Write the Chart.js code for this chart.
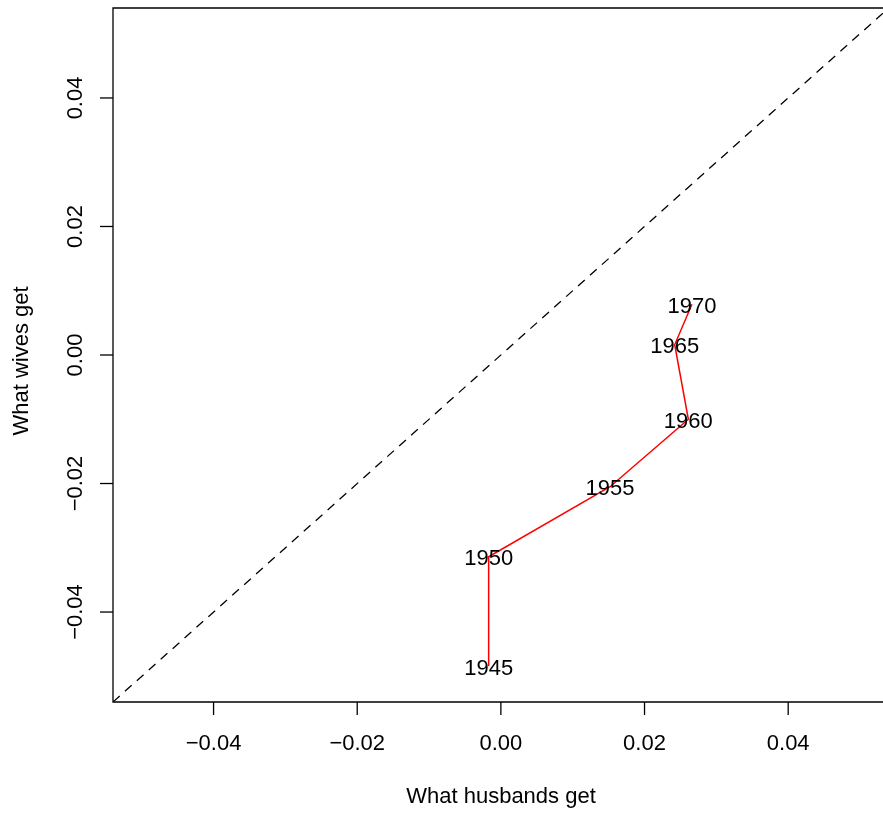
<!DOCTYPE html>
<html lang="en">
<head>
    <meta charset="UTF-8">
    <title>What husbands get vs what wives get</title>
    <style>
        html, body { margin: 0; padding: 0; background: #fff; }
        #wrap { width: 883px; height: 813px; position: relative; }
    </style>
</head>
<body>
    <div id="wrap"><canvas id="chart" width="883" height="813"></canvas></div>
    <script src="https://cdn.jsdelivr.net/npm/chart.js"></script>
    <script>
        // data
        const years = ['1945', '1950', '1955', '1960', '1965', '1970'];
        const husbands = [-0.0017, -0.0017, 0.0152, 0.0261, 0.0242, 0.0266];
        const wives = [-0.0484, -0.0314, -0.0205, -0.0100, 0.0016, 0.0079];
        const tickValues = [-0.04, -0.02, 0.00, 0.02, 0.04];
        const tickLabels = ['\u22120.04', '\u22120.02', '0.00', '0.02', '0.04'];
        const xLimits = [-0.054, 0.0532];
        const yLimits = [-0.054, 0.054];
        const diagLimits = [-0.054, 0.054]; // y = x reference line

        const FONT = '22px "Liberation Sans", Arial, sans-serif';

        // box, ticks, labels and year text like base R graphics
        const rAxes = {
            id: 'rAxes',
            afterDatasetsDraw(chart) {
                const ctx = chart.ctx;
                const a = chart.chartArea;
                const xs = chart.scales.x, ys = chart.scales.y;
                ctx.save();
                ctx.strokeStyle = '#000';
                ctx.lineWidth = 1.3;
                ctx.beginPath();
                ctx.moveTo(chart.width, a.top);
                ctx.lineTo(a.left, a.top);
                ctx.lineTo(a.left, a.bottom);
                ctx.lineTo(chart.width, a.bottom);
                ctx.stroke();

                ctx.fillStyle = '#000';
                ctx.font = FONT;
                // x ticks
                ctx.textAlign = 'center';
                ctx.textBaseline = 'alphabetic';
                tickValues.forEach((v, i) => {
                    const px = xs.getPixelForValue(v);
                    ctx.beginPath();
                    ctx.moveTo(px, a.bottom);
                    ctx.lineTo(px, a.bottom + 13);
                    ctx.stroke();
                    ctx.fillText(tickLabels[i], px, 750);
                });
                // y ticks, labels rotated
                tickValues.forEach((v, i) => {
                    const py = ys.getPixelForValue(v);
                    ctx.beginPath();
                    ctx.moveTo(a.left, py);
                    ctx.lineTo(a.left - 13, py);
                    ctx.stroke();
                    ctx.save();
                    ctx.translate(81.5, py);
                    ctx.rotate(-Math.PI / 2);
                    ctx.fillText(tickLabels[i], 0, 0);
                    ctx.restore();
                });
                // axis titles
                ctx.fillText('What husbands get', 501, 803);
                ctx.save();
                ctx.translate(28.3, 361);
                ctx.rotate(-Math.PI / 2);
                ctx.fillText('What wives get', 0, 0);
                ctx.restore();

                // year labels centred on the points
                years.forEach((y, i) => {
                    const px = xs.getPixelForValue(husbands[i]);
                    const py = ys.getPixelForValue(wives[i]);
                    ctx.fillText(y, px, py + 8.5);
                });
                ctx.restore();
            }
        };

        new Chart(document.getElementById('chart').getContext('2d'), {
            type: 'scatter',
            data: {
                datasets: [
                    {
                        data: diagLimits.map(v => ({ x: v, y: v })),
                        showLine: true,
                        borderColor: '#000',
                        borderWidth: 1.3,
                        borderDash: [9, 7],
                        pointRadius: 0
                    },
                    {
                        data: husbands.map((h, i) => ({ x: h, y: wives[i] })),
                        showLine: true,
                        borderColor: '#ff0000',
                        borderWidth: 1.5,
                        pointRadius: 0,
                        tension: 0
                    }
                ]
            },
            options: {
                responsive: false,
                animation: false,
                events: [],
                layout: { padding: { left: 113, top: 8, right: 0, bottom: 111 } },
                plugins: { legend: { display: false }, tooltip: { enabled: false } },
                scales: {
                    x: { type: 'linear', display: false, min: xLimits[0], max: xLimits[1] },
                    y: { type: 'linear', display: false, min: yLimits[0], max: yLimits[1] }
                }
            },
            plugins: [rAxes]
        });
    </script>
</body>
</html>
